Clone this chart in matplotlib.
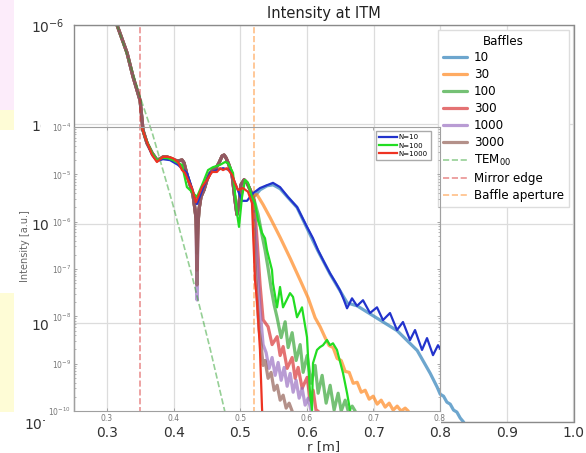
import numpy as np
import matplotlib
matplotlib.use("Agg")
import matplotlib.pyplot as plt
from matplotlib.patches import Rectangle
from matplotlib.ticker import LogLocator, NullFormatter, FixedLocator

# ---------------- data (log10 of intensity) ----------------
baffles = ["10", "30", "100", "300", "1000", "3000"]
baffle_colors = ["#1f77b4", "#ff7f0e", "#2ca02c", "#d62728", "#9467bd", "#8c564b"]

# shared part of the baffle curves (outer axes)
r_common = [0.300, 0.315, 0.330, 0.339, 0.3465, 0.3496, 0.3526, 0.354, 0.360, 0.3676,
            0.375, 0.3796, 0.384, 0.390, 0.3946, 0.4006, 0.4066, 0.4126, 0.4156, 0.420,
            0.4246, 0.429, 0.432, 0.4336, 0.435, 0.4366, 0.438, 0.441, 0.4456, 0.450,
            0.4547, 0.459, 0.4637, 0.468, 0.4727, 0.4757, 0.4787, 0.483, 0.4877, 0.492,
            0.495, 0.498, 0.501, 0.5057, 0.510, 0.5147, 0.5177]
e_common = [-5.65, -6.00, -6.28, -6.52, -6.69, -6.76, -6.96, -7.06, -7.19, -7.29,
            -7.36, -7.35, -7.33, -7.33, -7.34, -7.36, -7.37, -7.36, -7.39, -7.51,
            -7.61, -7.71, -7.86, -7.95, -8.10, -8.00, -7.86, -7.73, -7.66, -7.56,
            -7.49, -7.46, -7.44, -7.39, -7.32, -7.31, -7.34, -7.41, -7.51, -7.76,
            -7.91, -7.81, -7.61, -7.56, -7.59, -7.66, -7.71]
dip_r = 0.435
dip_e = [-8.10, -8.20, -8.30, -8.47, -8.77, -8.62]

tail_r = {
    "10": [0.5207, 0.5297, 0.5402, 0.5492, 0.5598, 0.5718, 0.5853, 0.6003, 0.6168, 0.6348,
           0.6498, 0.6604, 0.6754, 0.6994, 0.7354, 0.7655, 0.785, 0.7955, 0.800, 0.805,
           0.810, 0.815, 0.820, 0.825, 0.830, 0.835, 0.840],
    "30": [0.5207, 0.5252, 0.5342, 0.5447, 0.5598, 0.5748, 0.5898, 0.6018, 0.6123, 0.6198,
           0.6273, 0.6333, 0.6393, 0.6453, 0.6514, 0.6574, 0.6634, 0.6694, 0.6754, 0.6814,
           0.6874, 0.6934, 0.6994, 0.7054, 0.7114, 0.7174, 0.7234, 0.7294, 0.7354, 0.7414,
           0.7474, 0.7520],
    "100": [0.5207, 0.5267, 0.5327, 0.5372, 0.5417, 0.5462, 0.5508, 0.5553, 0.5613, 0.5673,
            0.5718, 0.5778, 0.5838, 0.5898, 0.5943, 0.6003, 0.6063, 0.6123, 0.6168, 0.6228,
            0.6288, 0.6348, 0.6408, 0.6468, 0.6514, 0.6574, 0.6619, 0.6679, 0.6724],
    "300": [0.5207, 0.5252, 0.5297, 0.5342, 0.5417, 0.5477, 0.5553, 0.5598, 0.5643, 0.5703,
            0.5778, 0.5823, 0.5868, 0.5928, 0.6003, 0.6048, 0.6093, 0.6138, 0.6168],
    "1000": [0.5207, 0.5252, 0.5297, 0.5342, 0.5387, 0.5432, 0.5477, 0.5523, 0.5568, 0.5613,
             0.5658, 0.5703, 0.5748, 0.5793, 0.5838, 0.5883, 0.5928, 0.5973, 0.6018, 0.6063],
    "3000": [0.5192, 0.5222, 0.5252, 0.5282, 0.5312, 0.5342, 0.5372, 0.5417, 0.5462, 0.5508,
             0.5553, 0.5598, 0.5643, 0.5688, 0.5733, 0.5778],
}
tail_e = {
    "10": [-7.73, -7.66, -7.62, -7.61, -7.65, -7.74, -7.84, -8.05, -8.28, -8.51,
           -8.68, -8.80, -8.83, -8.93, -9.08, -9.28, -9.51, -9.65, -9.72, -9.74,
           -9.80, -9.82, -9.88, -9.90, -9.96, -10.00, -10.08],
    "30": [-7.71, -7.71, -7.81, -7.94, -8.14, -8.35, -8.57, -8.75, -8.95, -9.04,
           -9.15, -9.23, -9.25, -9.36, -9.38, -9.49, -9.50, -9.61, -9.60, -9.70,
           -9.68, -9.77, -9.74, -9.82, -9.78, -9.85, -9.81, -9.88, -9.84, -9.89,
           -9.86, -9.89],
    "100": [-7.76, -7.91, -8.12, -8.27, -8.45, -8.65, -8.82, -8.95, -9.15, -8.99,
            -9.25, -9.10, -9.38, -9.22, -9.50, -9.33, -9.61, -9.43, -9.71, -9.53,
            -9.81, -9.63, -9.88, -9.71, -9.89, -9.78, -9.89, -9.84, -9.89],
    "300": [-7.76, -8.17, -8.62, -8.97, -9.04, -9.22, -9.14, -9.33, -9.24, -9.46,
            -9.35, -9.56, -9.45, -9.66, -9.55, -9.78, -9.68, -9.89, -9.89],
    "1000": [-7.81, -8.37, -8.87, -9.22, -9.30, -9.46, -9.35, -9.53, -9.40, -9.58,
             -9.45, -9.64, -9.51, -9.70, -9.58, -9.76, -9.66, -9.83, -9.76, -9.89],
    "3000": [-7.76, -8.37, -8.77, -9.07, -9.22, -9.43, -9.38, -9.56, -9.50, -9.68,
             -9.63, -9.78, -9.73, -9.86, -9.81, -9.89],
}

tem_r = [0.300, 0.315, 0.335, 0.350, 0.368, 0.398, 0.428, 0.455, 0.477, 0.490]
tem_e = [-5.67, -6.00, -6.40, -6.73, -7.09, -7.79, -8.54, -9.27, -9.90, -10.30]
mirror_edge = 0.35
baffle_aperture = 0.52

# inset curves (their own axes, 1e-10 .. 1e-4)
n_labels = ["N=10", "N=100", "N=1000"]
n_colors = ["#2233cc", "#22dd22", "#ee3322"]
n10_r = [0.350, 0.357, 0.3676, 0.375, 0.384, 0.3946, 0.4066, 0.420, 0.4276, 0.435,
         0.4441, 0.4547, 0.4652, 0.4742, 0.4847, 0.4952, 0.5027, 0.5102, 0.5192, 0.5297,
         0.5402, 0.5492, 0.5598, 0.5718, 0.5853, 0.5928, 0.6003, 0.6093, 0.6168, 0.6258,
         0.6348, 0.6438, 0.6498, 0.6559, 0.6604, 0.6679, 0.6754, 0.6844, 0.6949, 0.7054,
         0.7144, 0.7249, 0.7354, 0.7444, 0.755, 0.7625, 0.773, 0.7805, 0.7895, 0.797, 0.800]
n10_e = [-3.90, -4.21, -4.59, -4.72, -4.68, -4.70, -4.80, -4.97, -5.29, -5.63,
         -5.29, -4.97, -4.91, -4.87, -4.91, -5.29, -5.56, -5.56, -5.40, -5.29,
         -5.23, -5.18, -5.27, -5.48, -5.69, -5.90, -6.11, -6.35, -6.60, -6.85,
         -7.09, -7.30, -7.45, -7.66, -7.83, -7.62, -7.78, -7.66, -7.93, -7.81,
         -8.08, -7.93, -8.29, -8.12, -8.50, -8.29, -8.71, -8.46, -8.82, -8.61, -8.68]
n100_r = [0.350, 0.357, 0.3676, 0.375, 0.384, 0.3916, 0.399, 0.4066, 0.4126, 0.420,
          0.4276, 0.435, 0.4441, 0.4517, 0.459, 0.4697, 0.4772, 0.4817, 0.4892, 0.4952,
          0.4982, 0.5027, 0.5072, 0.5117, 0.5177, 0.5222, 0.5267, 0.5327, 0.5372, 0.5402,
          0.5477, 0.5492, 0.5553, 0.5598, 0.5643, 0.5748, 0.5793, 0.5853, 0.5928, 0.6003,
          0.6048, 0.6078, 0.6093, 0.6153, 0.6198, 0.6243, 0.6303, 0.6348, 0.6393, 0.6453,
          0.6544, 0.6604, 0.6649, 0.668]
n100_e = [-3.90, -4.21, -4.55, -4.70, -4.65, -4.66, -4.70, -4.76, -4.80, -5.27,
          -5.37, -5.48, -5.18, -4.91, -4.85, -4.80, -4.74, -4.76, -4.97, -5.82,
          -6.11, -5.48, -5.12, -5.18, -5.48, -5.61, -5.97, -6.24, -6.35, -6.60,
          -7.02, -7.30, -7.81, -7.38, -7.81, -7.51, -7.59, -8.02, -7.81, -8.44,
          -9.62, -9.98, -8.99, -8.71, -8.65, -8.61, -8.50, -8.61, -8.57, -8.71,
          -9.20, -9.62, -9.98, -10.3]
n1000_r = [0.350, 0.357, 0.3676, 0.375, 0.384, 0.3916, 0.399, 0.4066, 0.4126, 0.4171,
           0.4216, 0.4276, 0.4336, 0.4366, 0.4426, 0.450, 0.4577, 0.4652, 0.4697, 0.4742,
           0.4802, 0.4877, 0.4922, 0.4967, 0.5042, 0.5117, 0.5177, 0.5192, 0.5222, 0.5252,
           0.5297, 0.5327, 0.534]
n1000_e = [-3.90, -4.21, -4.59, -4.74, -4.63, -4.63, -4.66, -4.74, -4.91, -4.97,
           -5.12, -5.29, -5.59, -5.48, -5.27, -5.12, -4.95, -4.95, -4.87, -4.91,
           -4.87, -5.01, -5.18, -5.33, -5.29, -5.37, -5.61, -6.18, -7.23, -7.66,
           -8.71, -9.92, -10.3]

x_ticks = [0.3, 0.4, 0.5, 0.6, 0.7, 0.8, 0.9, 1.0]
inset_x_ticks = [0.3, 0.4, 0.5, 0.6, 0.7, 0.8]

# ---------------- figure ----------------
W, H = 586, 453
fig = plt.figure(figsize=(W / 100, H / 100), dpi=100)


def fx(px):
    return px / W


def fy(py):
    return 1 - py / H


ax = fig.add_axes([fx(73.7), fy(422), fx(573.5) - fx(73.7), fy(25) - fy(422)])
ax.set_yscale("log")
ax.set_xlim(0.25, 1.0)
ax.set_ylim(1e-10, 1e-6)
ax.set_xticks(x_ticks)
ax.set_xticklabels([f"{t:.1f}" for t in x_ticks])
ax.yaxis.set_major_locator(LogLocator(base=10, numticks=10))
ax.yaxis.set_minor_locator(FixedLocator([]))
ax.yaxis.set_minor_formatter(NullFormatter())
ax.grid(True, color="#dcdcdc", lw=0.9)
ax.set_axisbelow(True)
for s in ax.spines.values():
    s.set_color("#8a8a8a")
    s.set_linewidth(1.0)
ax.tick_params(length=0, labelsize=10, colors="#333333")
ax.tick_params(axis="y", pad=7)
ax.tick_params(axis="x", pad=3)
ax.set_title("Intensity at ITM", fontsize=10.5, pad=5, color="#222222")
ax.set_xlabel("r [m]", fontsize=9.5, labelpad=0, color="#333333")

dip_idx = r_common.index(dip_r)
for i, b in enumerate(baffles):
    e = list(e_common)
    e[dip_idx] = dip_e[i]
    r = np.array(r_common + tail_r[b])
    y = 10 ** np.array(e + tail_e[b])
    ax.plot(r, y, color=baffle_colors[i], alpha=0.65, lw=2.3, label=b, solid_capstyle="round")

ax.plot(tem_r, 10 ** np.array(tem_e), ls="--", color="#2ca02c", alpha=0.5, lw=1.2, label="TEM$_{00}$")
ax.axvline(mirror_edge, ls="--", color="#d62728", alpha=0.5, lw=1.2, label="Mirror edge")
ax.axvline(baffle_aperture, ls="--", color="#ff7f0e", alpha=0.5, lw=1.2, label="Baffle aperture")

leg = ax.legend(title="Baffles", loc="upper right", fontsize=8.6, title_fontsize=8.6,
                labelspacing=0.33, handlelength=2.0, handletextpad=0.6, borderaxespad=0.4,
                framealpha=1.0, edgecolor="#dddddd", fancybox=False)
leg.set_zorder(5)

# cover over part of the outer y tick labels (pasted picture)
fig.patches.append(Rectangle((fx(41), fy(142)), fx(73) - fx(41), fy(116) - fy(142),
                             transform=fig.transFigure, facecolor="white", edgecolor="none", zorder=1))
fig.patches.append(Rectangle((fx(50), fy(405)), fx(73) - fx(50), fy(142) - fy(405),
                             transform=fig.transFigure, facecolor="white", edgecolor="none", zorder=1))
fig.patches.append(Rectangle((fx(45), fy(427)), fx(73) - fx(45), fy(405) - fy(427),
                             transform=fig.transFigure, facecolor="white", edgecolor="none", zorder=1))
fig.patches.append(Rectangle((fx(50), fy(426)), fx(441) - fx(50), fy(411.5) - fy(426),
                             transform=fig.transFigure, facecolor="white", edgecolor="none", zorder=1))
# coloured slide strips at left
fig.patches.append(Rectangle((0, fy(110)), fx(14), fy(0) - fy(110), transform=fig.transFigure,
                             facecolor="#fcecfa", edgecolor="none", zorder=1))
fig.patches.append(Rectangle((0, fy(130)), fx(14), fy(110) - fy(130), transform=fig.transFigure,
                             facecolor="#fefcd6", edgecolor="none", zorder=1))
fig.patches.append(Rectangle((0, fy(412)), fx(14), fy(293) - fy(412), transform=fig.transFigure,
                             facecolor="#fefcd6", edgecolor="none", zorder=1))

# ---------------- inset ----------------
axi = fig.add_axes([fx(73.7), fy(411), fx(440) - fx(73.7), fy(127) - fy(411)], zorder=2)
axi.patch.set_alpha(0)
axi.set_yscale("log")
axi.set_xlim(0.25, 0.8)
axi.set_ylim(1e-10, 1e-4)
axi.plot(n10_r, 10 ** np.array(n10_e), color=n_colors[0], lw=1.6, label=n_labels[0])
axi.plot(n100_r, 10 ** np.array(n100_e), color=n_colors[1], lw=1.6, label=n_labels[1])
axi.plot(n1000_r, 10 ** np.array(n1000_e), color=n_colors[2], lw=1.6, label=n_labels[2])
axi.set_xticks(inset_x_ticks)
axi.set_xticklabels([f"{t:.1f}" for t in inset_x_ticks])
axi.yaxis.set_major_locator(LogLocator(base=10, numticks=10))
axi.yaxis.set_minor_locator(LogLocator(base=10, subs=np.arange(2, 10), numticks=20))
axi.yaxis.set_minor_formatter(NullFormatter())
axi.tick_params(which="both", direction="in", top=True, right=True, colors="#999999",
                labelcolor="#777777", labelsize=5.5, pad=2)
axi.tick_params(which="major", length=2.5, width=0.6)
axi.tick_params(which="minor", length=1.5, width=0.5)
for s in axi.spines.values():
    s.set_color("#a0a0a0")
    s.set_linewidth(0.8)
axi.set_ylabel("Intensity [a.u.]", fontsize=7, color="#666666")
axi.yaxis.set_label_coords(-0.12, 0.58)
li = axi.legend(loc="upper right", bbox_to_anchor=(0.985, 0.997), fontsize=5,
                handlelength=2.6, labelspacing=0.3, borderpad=0.45, fancybox=False,
                framealpha=1.0, edgecolor="#aaaaaa", handletextpad=0.3)

fig.savefig("out.png", dpi=100)
